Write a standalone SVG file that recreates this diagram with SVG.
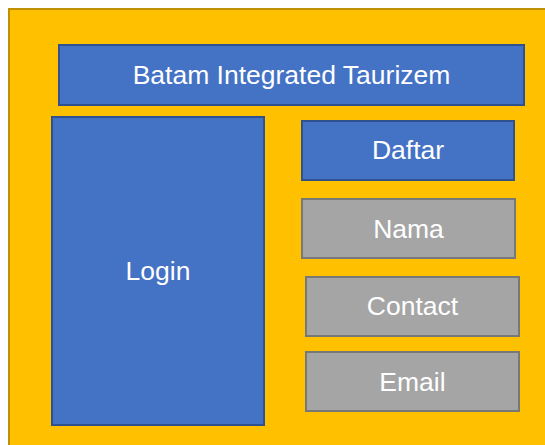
<svg xmlns="http://www.w3.org/2000/svg" width="545" height="445" viewBox="0 0 545 445">
  <style>
    .blue { fill: #4472C4; stroke: #2F528F; stroke-width: 2; }
    .gray { fill: #A5A5A5; stroke: #787878; stroke-width: 2; }
    .lbl { font-family: "Liberation Sans", Arial, sans-serif; font-size: 26.5px; fill: #FFFFFF; text-anchor: middle; dominant-baseline: central; }
  </style>
  <rect width="545" height="445" fill="#FFFFFF"/>
  <!-- page background panel -->
  <g id="panel">
    <rect x="9" y="9" width="545" height="445" fill="#FFC000" stroke="#BF9000" stroke-width="2"/>
  </g>
  <g id="title">
    <rect class="blue" x="59" y="45" width="465" height="60"/>
    <text class="lbl" x="291.5" y="75">Batam Integrated Taurizem</text>
  </g>
  <g id="login">
    <rect class="blue" x="52" y="117" width="212" height="308"/>
    <text class="lbl" x="158" y="271">Login</text>
  </g>
  <g id="daftar">
    <rect class="blue" x="302" y="121" width="212" height="59"/>
    <text class="lbl" x="408" y="150">Daftar</text>
  </g>
  <g id="nama">
    <rect class="gray" x="302" y="199" width="213" height="59"/>
    <text class="lbl" x="408.5" y="229">Nama</text>
  </g>
  <g id="contact">
    <rect class="gray" x="306" y="277" width="213" height="59"/>
    <text class="lbl" x="412.5" y="306">Contact</text>
  </g>
  <g id="email">
    <rect class="gray" x="306" y="352" width="213" height="59"/>
    <text class="lbl" x="412.5" y="382">Email</text>
  </g>
  <g id="connectors"/>
</svg>
